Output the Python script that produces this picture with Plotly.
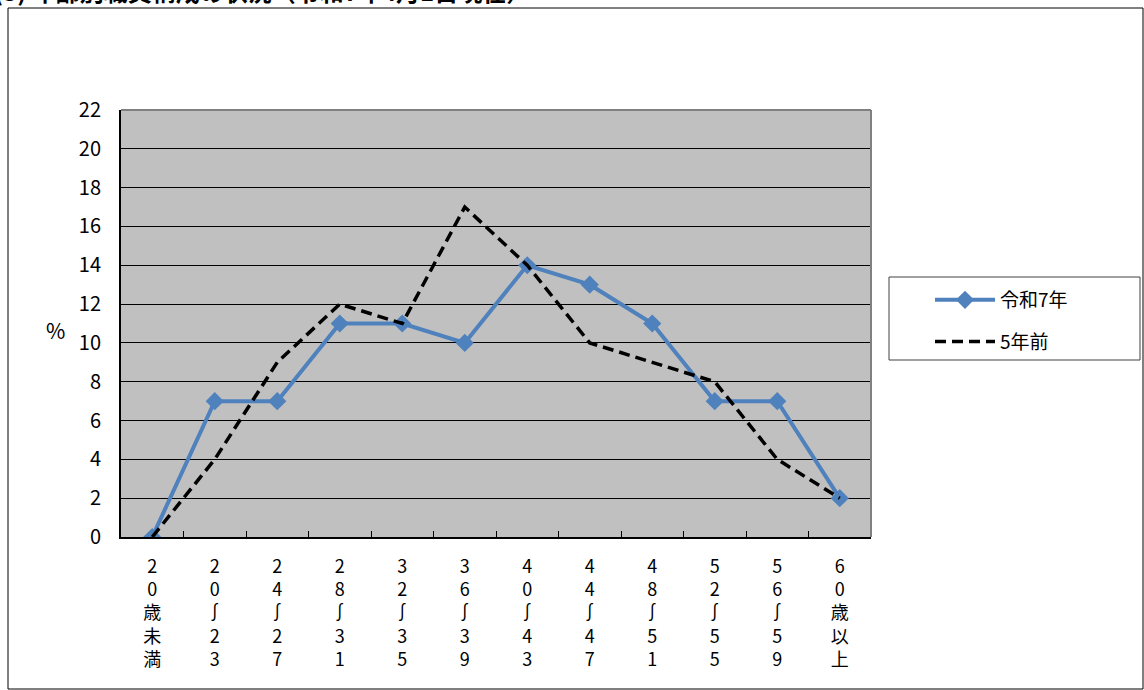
import plotly.graph_objects as go

categories = ["20歳未満", "20～23", "24～27", "28～31", "32～35", "36～39",
              "40～43", "44～47", "48～51", "52～55", "56～59", "60歳以上"]
tick_labels = ["2<br>0<br>歳<br>未<br>満", "2<br>0<br>∫<br>2<br>3", "2<br>4<br>∫<br>2<br>7",
               "2<br>8<br>∫<br>3<br>1", "3<br>2<br>∫<br>3<br>5", "3<br>6<br>∫<br>3<br>9",
               "4<br>0<br>∫<br>4<br>3", "4<br>4<br>∫<br>4<br>7", "4<br>8<br>∫<br>5<br>1",
               "5<br>2<br>∫<br>5<br>5", "5<br>6<br>∫<br>5<br>9", "6<br>0<br>歳<br>以<br>上"]
r7 = [0, 7, 7, 11, 11, 10, 14, 13, 11, 7, 7, 2]
five_years_ago = [0, 4, 9, 12, 11, 17, 14, 10, 9, 8, 4, 2]
y_ticks = list(range(0, 23, 2))

FONT = "Noto Sans CJK JP"
W, H = 1144, 690
L, R, T, B = 121, 871, 110, 537

def px(x):
    return (x - L) / (R - L)

def py(y):
    return (B - y) / (B - T)

fig = go.Figure()
fig.add_trace(go.Scatter(
    x=categories, y=r7, name="令和7年", mode="lines+markers", legendgroup="a",
    line=dict(color="#4F81BD", width=4),
    marker=dict(symbol="diamond", size=14, color="#4F81BD"),
))
fig.add_trace(go.Scatter(
    x=categories, y=five_years_ago, name="5年前", mode="lines", legendgroup="b",
    line=dict(color="#000000", width=3.5, dash="11px,6px"),
))

fig.update_layout(
    width=W, height=H,
    margin=dict(l=L, r=W - R, t=T, b=H - B),
    paper_bgcolor="white", plot_bgcolor="#C0C0C0",
    font=dict(family=FONT, color="#000000", size=17),
    showlegend=True,
    legend=dict(x=px(930), y=py(281), xanchor="left", yanchor="top",
                bgcolor="rgba(0,0,0,0)", borderwidth=0,
                font=dict(size=19, family=FONT), tracegroupgap=14,
                itemwidth=60),
    xaxis=dict(
        type="category", range=[-0.5, 11.5],
        tickmode="array", tickvals=categories, ticktext=tick_labels,
        tickson="boundaries", ticks="inside", ticklen=6, tickcolor="#000000",
        ticklabelstandoff=12,
        showgrid=False, showline=True, linecolor="#000000", linewidth=2,
        tickfont=dict(size=18, family=FONT), tickangle=0,
    ),
    yaxis=dict(
        range=[0, 22], tickvals=y_ticks, ticks="", ticklabelstandoff=14,
        showgrid=True, gridcolor="#000000", gridwidth=1,
        showline=True, linecolor="#000000", linewidth=2, zeroline=False,
        tickfont=dict(size=20, family=FONT),
    ),
    shapes=[
        dict(type="line", xref="paper", yref="paper", x0=0, x1=1, y0=1, y1=1,
             line=dict(color="#808080", width=2)),
        dict(type="line", xref="paper", yref="paper", x0=1, x1=1, y0=0, y1=1,
             line=dict(color="#808080", width=2)),
        dict(type="rect", xref="paper", yref="paper",
             x0=px(8), x1=px(1143), y0=py(689), y1=py(8),
             line=dict(color="#000000", width=1), layer="below"),
        dict(type="rect", xref="paper", yref="paper",
             x0=px(889), x1=px(1140), y0=py(360), y1=py(277),
             line=dict(color="#404040", width=1)),
    ],
    annotations=[
        dict(text="%", xref="paper", yref="paper", x=px(44), y=py(330),
             showarrow=False, font=dict(size=21, family=FONT)),
        dict(text="<b>(3) 年齢別職員構成の状況（令和7年4月1日現在）</b>", xref="paper", yref="paper",
             x=px(532), y=py(-9), xanchor="right", yanchor="middle",
             showarrow=False, font=dict(size=24, family=FONT)),
    ],
)

fig.write_html("out.html", config={"displayModeBar": False},
               post_script="document.body.style.margin='0';document.body.style.overflow='hidden';")
